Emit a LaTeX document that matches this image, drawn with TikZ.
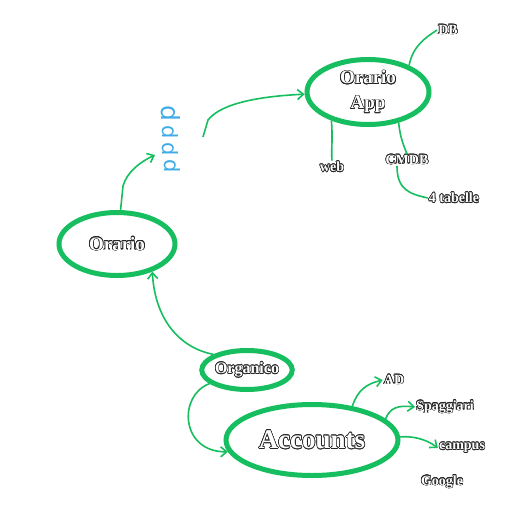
\documentclass[tikz,border=0pt]{standalone}
\usepackage{fontspec}
\setmainfont{Liberation Serif}
\newfontfamily\dsans{DejaVu Sans}
\usepackage[copies]{contour}
\contourlength{0.6pt}
\contournumber{16}
\usetikzlibrary{shapes.geometric,arrows.meta}
\definecolor{gr}{RGB}{22,190,96}
\definecolor{bl}{RGB}{62,172,230}
\newcommand{\outl}[1]{\contour{black!85}{\textcolor{white}{#1}}}
\begin{document}
\begin{tikzpicture}[x=1pt,y=-1pt,
  oval/.style={ellipse,draw=gr,line width=5pt,inner sep=0pt},
  lbl/.style={inner sep=1pt,font=\bfseries\fontsize{14}{16}\selectfont},
  conn/.style={draw=gr,line width=1.6pt},
  arr/.style={conn,-{Straight Barb[length=6pt,width=10pt,line width=1.6pt]}},
  glyph/.style={text=bl,rotate=-90,inner sep=0pt}]
\useasboundingbox[fill=white] (0,0) rectangle (512,512);

\node[oval,minimum width=122pt,minimum height=65pt,align=center,font=\bfseries\fontsize{19}{25}\selectfont] (app) at (368,92) {\outl{Orario}\\\outl{App}};
\node[oval,minimum width=116pt,minimum height=63pt,font=\bfseries\fontsize{19}{22}\selectfont] (orario) at (117,244) {\outl{Orario}};
\node[oval,minimum width=84pt,minimum height=39pt,font=\bfseries\fontsize{16}{18}\selectfont] (org) at (247,370) {\outl{Organico}};
\node[oval,minimum width=172pt,minimum height=71pt,font=\bfseries\fontsize{27}{30}\selectfont] (acc) at (312,440) {\outl{Accounts}};

\node[lbl] (db) at (448,30) {\outl{DB}};
\node[lbl] (web) at (332,167) {\outl{web}};
\node[lbl] (cmdb) at (407,160) {\outl{CMDB}};
\node[lbl] (tab) at (454,198) {\outl{4 tabelle}};
\node[lbl] (ad) at (394,380) {\outl{AD}};
\node[lbl] (spa) at (445,407) {\outl{Spaggiari}};
\node[lbl] (cam) at (462,448) {\outl{campus}};
\node[lbl] (goo) at (442,482) {\outl{Google}};

\node[glyph,font=\dsans\fontsize{25}{25}\selectfont] (q1) at (171,113) {d};
\node[glyph,font=\dsans\fontsize{21}{21}\selectfont] (q2) at (170,132) {d};
\node[glyph,font=\dsans\fontsize{21}{21}\selectfont] (q3) at (170,149) {d};
\node[glyph,font=\dsans\fontsize{21}{21}\selectfont] (q4) at (172,166) {d};

\coordinate (tA) at (155,155);
\coordinate (sB) at (203,137);

\draw[conn] (app.33) .. controls (413,46) and (425,38) .. (db.west);
\draw[conn] (app.218) .. controls (333,140) and (331,150) .. (web.north);
\draw[conn] (app.315) .. controls (400,135) and (402,142) .. (cmdb.north);
\draw[conn] ([xshift=-10pt]cmdb.south) .. controls (397,190) and (410,194) .. (tab.west);

\draw[arr] (orario.84) -- (123,186) .. controls (127,172) and (140,162) .. (tA);
\draw[arr] (sB) -- (208,120) .. controls (222,102) and (265,96) .. (app.182);
\draw[arr] (org.155) .. controls (180,348) and (155,320) .. (orario.322);
\draw[arr] (org.200) .. controls (178,395) and (180,452) .. (acc.188);
\draw[arr] (acc.40) .. controls (358,390) and (366,384) .. (ad.west);
\draw[arr] (acc.16) .. controls (390,408) and (397,405) .. (spa.west);
\draw[arr] (acc.2) .. controls (410,436) and (425,438) .. (cam.west);
\end{tikzpicture}
\end{document}
